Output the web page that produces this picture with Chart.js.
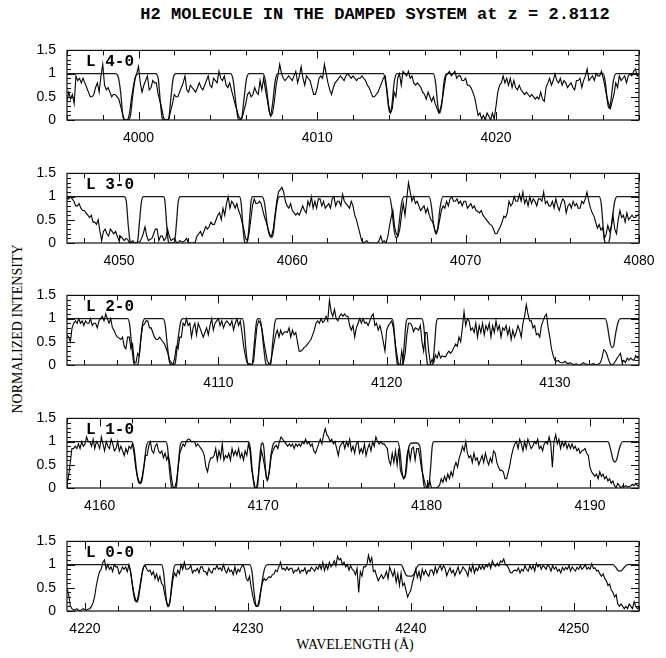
<!DOCTYPE html>
<html><head><meta charset="utf-8">
<script src="https://cdn.jsdelivr.net/npm/chart.js@4.4.0/dist/chart.umd.min.js"></script>
<style>
html,body{margin:0;padding:0;background:#fff;}
#wrap{position:relative;width:666px;height:658px;overflow:hidden;background:#fff;}
canvas{position:absolute;left:0;}
#title{position:absolute;left:375px;top:14px;transform:translate(-50%,-50%);font:bold 17px "Liberation Mono",monospace;white-space:pre;color:#000;}
#ytitle{position:absolute;left:18px;top:329px;transform:translate(-50%,-50%) rotate(-90deg);font:14px "Liberation Serif",serif;white-space:nowrap;color:#000;}
#xtitle{position:absolute;left:355px;top:645px;transform:translate(-50%,-50%);font:14px "Liberation Serif",serif;white-space:nowrap;color:#000;}
</style></head>
<body><div id="wrap">
<div id="title">H2 MOLECULE IN THE DAMPED SYSTEM at z = 2.8112</div>
<div id="ytitle">NORMALIZED INTENSITY</div>
<div id="xtitle">WAVELENGTH (Å)</div>
</div>
<script>
// ---------------- DATA ----------------
const panelLabels = ['L 4-0','L 3-0','L 2-0','L 1-0','L 0-0'];
const waveMin = [3996, 4047, 4101, 4158, 4218.9];
const waveMax = [4028, 4080, 4135, 4193, 4254];
const waveStep = 0.1;
const ticksL40 = [4000,4010,4020];
const ticksL30 = [4050,4060,4070,4080];
const ticksL20 = [4110,4120,4130];
const ticksL10 = [4160,4170,4180,4190];
const ticksL00 = [4220,4230,4240,4250];
const intensityTicks = [0,0.5,1,1.5];

const fluxL40 = [
0.4,0.6,0.45,0.55,0.35,0.95,0.85,0.9,0.8,0.9,
0.8,0.7,0.6,0.5,0.5,0.55,0.7,0.8,0.6,0.95,
1.2,0.75,0.65,0.7,0.6,0.5,0.55,0.55,0.5,0.45,
0.3,0.15,0.02,0,0,0.15,0.45,0.7,0.9,1.0,
1.15,0.8,0.6,0.75,0.85,0.95,0.65,0.7,0.85,0.8,
0.8,0.55,0.4,0.25,0.05,0,0,0.02,0.2,0.35,
0.55,0.5,0.5,0.6,0.7,0.8,0.95,0.65,0.6,0.75,
0.7,0.65,0.6,0.7,0.8,0.7,0.65,0.75,0.85,0.95,
0.75,0.7,0.9,0.85,0.8,1.05,0.9,0.85,0.95,0.75,
0.7,0.8,0.65,0.5,0.35,0.22,0.08,0.02,0.05,0.2,
0.35,0.55,0.6,0.5,0.55,0.7,0.6,0.55,0.85,0.65,
0.9,0.65,0.45,0.2,0.08,0.15,0.4,0.75,0.95,1.2,
1.0,0.9,0.85,0.9,0.95,0.9,0.85,0.95,1.05,0.8,
0.95,1.15,0.9,0.75,0.95,0.9,0.85,0.7,0.55,0.55,
0.7,0.9,0.95,0.9,1.2,1.0,0.8,0.65,0.55,0.7,
0.8,0.85,0.9,0.95,0.9,0.85,0.95,1.0,0.95,0.9,
0.95,0.9,0.85,0.9,0.9,0.95,0.9,0.85,0.75,0.7,
0.6,0.5,0.5,0.55,0.6,0.7,0.8,0.9,0.95,0.65,
0.3,0.15,0.25,0.6,0.5,0.9,1.0,0.75,1.05,1.0,
0.95,1.05,0.9,0.95,0.8,0.75,0.8,0.75,0.7,0.6,
0.55,0.45,0.6,0.5,0.4,0.5,0.35,0.25,0.15,0.25,
0.45,0.7,0.95,1.0,1.05,0.95,1.0,1.05,0.9,0.95,
0.95,0.85,0.85,0.9,0.75,0.75,0.7,0.6,0.5,0.3,
0.1,0.15,0.02,0.1,0.0,0.15,0.08,0.0,0.15,0.02,
0.3,0.6,0.75,0.8,0.95,0.8,0.9,0.75,0.9,0.7,
0.85,0.7,0.65,0.75,0.65,0.6,0.55,0.6,0.55,0.5,
0.55,0.5,0.45,0.5,0.45,0.6,0.45,0.4,0.7,0.8,
0.9,0.75,0.85,1.0,0.85,0.8,0.9,0.75,0.85,0.8,
0.7,0.75,0.8,0.7,0.65,0.85,0.85,0.9,0.7,0.85,
0.95,1.1,0.85,0.9,0.95,0.85,1.0,0.95,0.95,1.05,
0.9,0.7,0.5,0.35,0.25,0.4,0.55,0.8,0.7,0.95,
0.85,0.9,0.95,0.8,0.95,1.0,0.95,1.05,1.1,0.95,
1.0];

const fluxL30 = [
0.95,0.95,1.0,0.95,0.9,0.8,0.8,0.85,0.75,0.7,
0.7,0.65,0.6,0.55,0.6,0.45,0.45,0.4,0.5,0.25,
0.05,0.25,0.3,0.2,0.15,0.3,0.25,0.2,0.25,0.15,
0.05,0.15,0.1,0.05,0.1,0.08,0.0,0.03,0.05,0.0,
0.0,0.02,0.02,0.1,0.2,0.35,0.15,0.05,0.08,0.1,
0.2,0.3,0.3,0.05,0.15,0.15,0.05,0.1,0.3,0.15,
0.05,0.08,0.1,0.02,0.0,0.05,0.03,0.02,0.05,0.1,
0.0,0.0,0.0,0.0,0.02,0.15,0.2,0.25,0.15,0.25,
0.35,0.3,0.35,0.45,0.4,0.4,0.5,0.6,0.65,0.5,
0.75,0.6,0.85,1.0,0.75,0.9,0.85,0.75,0.85,0.7,
0.6,0.45,0.3,0.1,0.05,0.2,0.5,0.8,0.95,0.85,
0.85,0.9,0.85,0.7,0.55,0.45,0.3,0.18,0.15,0.3,
0.6,0.9,1.1,1.15,1.2,1.1,0.9,0.8,0.75,0.85,
0.7,0.65,0.6,0.65,0.6,0.7,0.8,0.7,0.65,0.9,
0.8,1.0,0.75,0.9,0.75,0.95,0.95,0.8,0.9,0.75,
0.8,0.85,0.75,0.95,1.0,0.8,0.9,0.9,0.8,1.05,
0.9,0.85,0.8,0.75,0.9,0.8,0.6,0.5,0.35,0.2,
0.05,0.0,0.03,0.05,0.0,0.0,0.0,0.0,0.0,0.0,
0.05,0.15,0.02,0.05,0.0,0.12,0.35,0.55,0.7,0.35,
0.2,0.15,0.3,0.6,0.85,0.6,0.95,1.3,1.1,0.9,
1.0,0.85,0.9,0.8,0.7,0.75,0.8,0.65,0.75,0.6,
0.5,0.45,0.32,0.2,0.3,0.5,0.7,0.8,0.75,0.9,
0.8,0.95,1.0,0.9,0.9,0.95,0.85,0.9,0.8,0.9,
0.9,0.75,0.8,0.85,0.75,0.8,0.7,0.68,0.65,0.7,
0.6,0.55,0.5,0.45,0.4,0.38,0.3,0.2,0.2,0.28,
0.35,0.45,0.58,0.55,0.65,0.9,0.8,0.85,1.0,0.9,
0.9,1.05,0.9,1.1,0.85,0.95,0.8,1.0,0.85,0.95,
0.9,0.8,0.95,0.95,0.9,1.1,0.85,0.9,0.8,0.8,
0.9,0.75,0.95,0.8,0.7,0.85,0.95,0.9,0.65,0.8,
0.85,0.75,0.9,0.8,0.85,0.75,0.75,0.9,0.85,0.95,
1.1,0.9,0.75,0.65,0.58,0.45,0.32,0.4,0.28,0.33,
0.1,0.18,0.38,0.25,0.35,0.6,0.3,0.2,0.5,0.7,
0.55,0.6,0.45,0.65,0.5,0.55,0.6,0.55,0.55,0.6,
0.6];

const fluxL20 = [
0.65,0.6,0.5,0.8,0.9,0.95,0.9,1.0,0.9,0.95,
0.85,0.95,0.9,0.9,1.0,0.85,0.9,0.9,0.8,0.95,
1.0,1.05,0.95,1.1,1.0,0.9,1.0,0.8,0.75,0.65,
0.6,0.58,0.55,0.6,0.4,0.35,0.6,0.6,0.35,0.45,
0.05,0.05,0.25,0.2,0.6,0.85,0.88,0.95,0.95,0.8,
0.8,0.7,0.6,0.55,0.55,0.6,0.55,0.5,0.45,0.35,
0.25,0.1,0.05,0.0,0.15,0.4,0.35,0.6,0.6,0.9,
0.85,1.0,0.85,0.9,0.6,0.8,0.9,0.65,0.9,0.8,
0.7,0.6,0.7,0.8,0.65,0.85,1.0,0.75,0.9,0.95,
1.0,0.85,0.95,0.8,0.9,0.95,0.9,0.85,0.95,0.75,
0.9,1.0,0.85,0.95,0.7,0.4,0.2,0.05,0.03,0.02,
0.0,0.1,0.5,0.85,0.95,0.9,0.75,0.5,0.3,0.1,
0.02,0.05,0.25,0.45,0.65,0.75,0.6,0.75,0.65,0.7,
0.72,0.7,0.8,0.6,0.75,0.65,0.7,0.5,0.3,0.3,
0.33,0.38,0.4,0.45,0.5,0.55,0.65,0.75,0.9,0.95,
0.9,1.0,0.92,0.95,1.05,0.95,1.4,1.15,1.05,1.2,
1.0,0.95,1.05,1.1,1.05,1.1,1.05,1.05,0.85,0.75,
0.85,0.6,0.8,0.9,1.0,0.9,1.0,0.9,0.92,0.85,
0.95,1.05,1.1,0.85,0.9,0.75,0.85,0.7,0.5,0.3,
0.75,0.85,0.9,0.95,0.8,0.5,0.25,0.02,0.0,0.3,
0.05,0.25,0.65,0.9,0.9,0.85,0.72,0.8,0.78,0.75,
0.85,0.5,0.3,0.7,0.7,0.3,0.02,0.12,0.05,0.22,
0.15,0.28,0.15,0.2,0.18,0.18,0.25,0.3,0.25,0.3,
0.38,0.45,0.4,0.6,0.5,0.8,1.15,0.85,1.0,0.95,
0.75,0.8,0.7,0.9,0.6,0.85,0.7,0.9,0.65,0.85,
0.75,0.9,0.6,0.85,0.7,0.95,0.75,0.85,0.6,0.8,
0.75,0.85,0.65,0.8,0.55,0.75,0.6,0.7,0.85,0.75,
0.6,0.9,1.05,1.3,1.1,0.95,0.95,0.8,0.85,0.65,
0.68,0.6,0.85,0.95,1.05,1.1,0.8,0.6,0.35,0.2,
0.1,0.08,0.1,0.06,0.05,0.05,0.08,0.04,0.03,0.05,
0.03,0.0,0.02,0.02,0.0,0.0,0.03,0.05,0.02,0.02,
0.0,0.0,0.02,0.03,0.0,0.0,0.02,0.05,0.15,0.33,
0.3,0.22,0.1,0.02,0.0,0.03,0.08,0.15,0.2,0.25,
0.05,0.1,0.05,0.15,0.1,0.15,0.12,0.1,0.2,0.15,
0.15];

const fluxL10 = [
0.1,0.25,0.55,0.85,0.85,0.9,0.85,0.95,0.85,1.0,
0.9,0.95,1.1,1.0,1.0,0.9,1.05,0.85,1.0,0.95,
0.85,1.1,0.95,0.8,1.0,0.9,0.85,1.05,0.95,0.8,
0.85,1.0,0.8,0.9,0.8,0.7,0.85,0.75,0.9,0.85,
0.95,0.75,0.45,0.25,0.15,0.1,0.25,0.45,0.7,0.7,
0.9,1.0,0.8,0.75,0.9,0.95,0.8,0.75,0.8,0.65,
0.75,0.6,0.7,0.5,0.2,0.0,0.02,0.15,0.45,0.75,
0.85,0.95,0.9,1.0,1.05,1.05,1.0,1.0,1.0,0.9,
0.95,0.9,0.85,0.8,0.7,0.45,0.35,0.55,0.65,0.65,
0.7,0.85,0.6,0.8,0.65,0.95,0.6,0.7,0.65,0.75,
0.6,0.85,0.7,0.8,0.7,0.85,0.65,0.75,0.6,0.8,
0.7,0.95,0.8,0.4,0.2,0.02,0.0,0.25,0.55,0.8,
0.65,0.45,0.22,0.2,0.4,0.7,0.8,0.88,0.92,0.85,
1.0,1.1,1.05,1.0,0.95,0.9,0.95,0.9,0.95,0.85,
0.95,0.9,0.95,0.9,1.0,0.95,1.05,0.95,1.0,0.9,
0.95,0.8,0.75,0.85,0.95,1.05,0.95,1.15,1.28,1.15,
1.1,1.0,1.05,0.95,1.0,0.85,0.7,0.9,0.95,1.0,
0.85,1.0,0.9,1.05,0.8,0.9,0.75,0.95,1.0,0.75,
0.85,0.75,0.95,0.7,0.85,0.95,0.8,1.0,0.9,1.1,
1.0,0.95,1.0,0.95,0.95,0.9,0.85,0.6,0.5,0.75,
0.55,0.8,0.5,0.85,0.38,0.28,0.2,0.28,0.7,0.85,
0.6,0.85,0.88,0.6,0.85,0.85,0.65,0.4,0.25,0.1,
0.02,0.05,0.15,0.0,0.0,0.0,0.0,0.02,0.06,0.2,
0.12,0.25,0.15,0.3,0.2,0.35,0.25,0.45,0.55,0.45,
0.65,0.75,0.9,0.8,1.0,0.75,0.65,0.7,0.55,0.75,
0.6,0.65,0.5,0.6,0.7,0.55,0.75,0.6,0.5,0.65,
0.55,0.8,0.75,0.55,0.45,0.38,0.38,0.35,0.2,0.2,
0.35,0.5,0.7,0.85,0.95,1.0,0.85,1.05,0.95,0.8,
1.0,0.85,1.05,0.95,0.85,0.9,1.0,0.95,1.05,0.85,
0.9,0.8,0.95,1.0,0.95,1.1,0.95,0.45,1.0,1.15,
0.95,1.05,0.85,1.0,0.9,1.0,0.85,0.95,0.85,0.95,
0.85,0.9,0.8,0.85,0.75,0.8,0.82,0.85,0.75,0.7,
0.45,0.35,0.3,0.25,0.3,0.2,0.35,0.25,0.3,0.2,
0.25,0.15,0.2,0.1,0.15,0.05,0.0,0.1,0.05,0.0,
0.05,0.03,0.05,0.02,0.03,0.05,0.08,0.05,0.1,0.05,
0.05];

const fluxL00 = [
0.5,0.35,0.12,0.05,0.03,0.02,0.05,0.02,0.0,0.03,
0.05,0.03,0.02,0.04,0.05,0.1,0.18,0.32,0.55,0.72,
0.85,0.9,1.05,1.1,0.9,1.0,0.9,0.95,0.85,1.0,
0.95,0.95,0.8,0.85,0.95,0.9,0.95,0.85,1.0,0.85,
0.6,0.4,0.25,0.2,0.38,0.6,0.8,0.95,0.98,0.9,
0.85,0.88,0.78,0.85,0.7,0.8,0.65,0.75,0.6,0.55,
0.35,0.2,0.1,0.18,0.42,0.68,0.82,0.75,0.88,0.8,
1.0,0.9,1.05,0.9,0.9,0.92,0.98,0.82,0.88,0.86,
0.92,0.82,0.95,0.95,0.85,0.85,0.78,0.92,0.85,0.82,
0.92,0.9,0.98,0.9,0.93,0.87,1.0,0.88,0.82,0.93,
0.85,0.88,0.78,0.95,0.8,0.9,0.85,0.95,1.0,0.9,
0.7,0.65,0.75,0.52,0.32,0.17,0.1,0.1,0.25,0.46,
0.62,0.7,0.66,0.7,0.74,0.72,0.78,0.8,0.88,0.85,
0.95,1.05,0.9,0.92,0.88,0.95,0.88,0.92,0.92,0.82,
0.88,0.86,0.93,0.82,0.88,0.86,0.93,0.8,0.88,0.86,
0.94,0.9,0.86,0.95,0.9,1.0,0.9,1.05,0.87,1.0,
0.9,1.05,0.95,1.0,1.08,0.97,1.18,1.1,1.13,1.0,
1.05,0.95,1.0,0.88,0.98,0.9,0.87,0.78,0.92,0.4,
0.85,0.75,0.95,0.95,1.0,1.2,1.05,1.15,0.85,0.88,
0.75,0.65,0.72,0.78,0.7,0.75,0.85,0.7,0.95,0.85,
0.75,0.88,0.62,0.8,0.55,0.82,0.55,0.6,0.45,0.3,
0.38,0.45,0.62,0.75,0.9,0.72,0.85,0.68,0.9,0.78,
0.88,0.8,0.75,0.88,0.88,0.78,0.95,0.82,0.92,0.98,
0.88,0.98,0.92,0.76,0.85,0.93,0.82,0.88,0.76,0.85,
0.95,0.8,0.86,0.95,0.9,0.85,0.75,0.95,0.85,1.0,
0.82,0.93,0.87,0.98,0.9,0.98,0.9,1.0,0.95,1.03,
0.92,1.08,1.0,0.96,1.03,0.97,1.08,1.05,1.12,1.0,
0.98,0.92,0.83,0.82,0.87,0.88,0.86,0.93,0.82,0.9,
0.86,0.98,0.9,0.86,0.98,0.9,0.98,0.86,1.03,0.95,
1.0,0.9,0.98,0.95,0.9,1.0,0.95,0.86,0.98,0.9,
0.95,0.86,0.9,0.82,0.94,0.88,0.94,0.9,0.98,0.86,
0.95,0.9,0.86,0.94,0.9,0.98,0.9,0.94,1.0,0.9,
0.94,0.9,1.02,0.92,0.93,0.86,0.88,0.8,0.75,0.8,
0.7,0.65,0.55,0.58,0.45,0.4,0.3,0.35,0.15,0.1,
0.15,0.1,0.05,0.1,0.05,0.15,0.1,0.05,0.2,0.1,
0.05,0.08];

// fitted H2 model profiles: [wavelength, intensity]
const modelL40 = [[3996,1],[3998.7,1],[3998.85,0.95],[3999.0,0.6],[3999.12,0.1],[3999.2,0],[3999.45,0],[3999.55,0.1],[3999.7,0.6],[3999.85,0.95],[4000.0,1],
[4000.95,1],[4001.1,0.9],[4001.22,0.4],[4001.33,0.03],[4001.4,0],[4001.62,0],[4001.7,0.05],[4001.82,0.5],[4001.95,0.92],[4002.1,1],
[4005.15,1],[4005.3,0.85],[4005.45,0.35],[4005.58,0.02],[4005.68,0],[4005.78,0.05],[4005.9,0.45],[4006.05,0.9],[4006.2,1],
[4006.95,1],[4007.1,0.85],[4007.25,0.4],[4007.38,0.1],[4007.5,0.35],[4007.65,0.85],[4007.8,1],
[4013.7,1],[4013.85,0.75],[4014.0,0.25],[4014.08,0.15],[4014.17,0.3],[4014.3,0.8],[4014.45,1],
[4016.5,1],[4016.62,0.8],[4016.75,0.3],[4016.86,0.15],[4016.97,0.35],[4017.1,0.85],[4017.25,1],
[4026.0,1],[4026.12,0.8],[4026.25,0.35],[4026.33,0.25],[4026.42,0.4],[4026.57,0.85],[4026.72,1],[4028,1]];
const modelL30 = [[4047,1],[4050.3,1],[4050.42,0.9],[4050.53,0.4],[4050.63,0.05],[4050.7,0],[4051.0,0],[4051.08,0.05],[4051.18,0.45],[4051.3,0.9],[4051.42,1],
[4052.55,1],[4052.65,0.9],[4052.75,0.4],[4052.85,0.03],[4052.92,0],[4053.15,0],[4053.22,0.05],[4053.32,0.45],[4053.42,0.9],[4053.55,1],
[4056.95,1],[4057.05,0.85],[4057.15,0.35],[4057.25,0.02],[4057.33,0],[4057.42,0.05],[4057.52,0.45],[4057.62,0.9],[4057.72,1],
[4058.25,1],[4058.4,0.85],[4058.55,0.4],[4058.7,0.15],[4058.8,0.12],[4058.9,0.2],[4059.02,0.6],[4059.15,0.92],[4059.25,1],
[4065.6,1],[4065.72,0.8],[4065.85,0.35],[4065.97,0.12],[4066.05,0.12],[4066.15,0.4],[4066.3,0.85],[4066.45,1],
[4067.9,1],[4068.02,0.8],[4068.15,0.4],[4068.28,0.2],[4068.38,0.3],[4068.52,0.75],[4068.68,1],
[4077.7,1],[4077.82,0.85],[4077.93,0.35],[4078.02,0.03],[4078.08,0],[4078.22,0],[4078.3,0.08],[4078.45,0.5],[4078.6,0.9],[4078.75,1],[4080,1]];
const modelL20 = [[4101,1],[4104.6,1],[4104.72,0.88],[4104.85,0.4],[4104.97,0.05],[4105.03,0],[4105.18,0],[4105.25,0.08],[4105.37,0.5],[4105.5,0.9],[4105.65,1],
[4106.7,1],[4106.83,0.88],[4106.97,0.4],[4107.1,0.05],[4107.2,0],[4107.38,0],[4107.45,0.08],[4107.58,0.5],[4107.75,0.92],[4107.9,1],
[4111.42,1],[4111.52,0.85],[4111.63,0.35],[4111.74,0.03],[4111.8,0],[4111.97,0],[4112.03,0.05],[4112.13,0.45],[4112.25,0.9],[4112.35,1],
[4112.45,1],[4112.57,0.8],[4112.7,0.35],[4112.82,0.03],[4112.9,0],[4113.06,0],[4113.12,0.05],[4113.22,0.45],[4113.35,0.9],[4113.48,1],
[4120.3,1],[4120.42,0.85],[4120.53,0.35],[4120.63,0.03],[4120.68,0],[4120.9,0],[4120.95,0.05],[4121.05,0.45],[4121.15,0.9],[4121.25,1],
[4122.1,1],[4122.2,0.85],[4122.32,0.35],[4122.42,0.03],[4122.47,0],[4122.7,0],[4122.75,0.05],[4122.85,0.45],[4122.95,0.9],[4123.05,1],
[4133.0,1],[4133.12,0.85],[4133.25,0.55],[4133.38,0.38],[4133.48,0.4],[4133.62,0.7],[4133.78,0.95],[4133.92,1],[4135,1]];
const modelL10 = [[4158,1],[4161.95,1],[4162.1,0.85],[4162.25,0.4],[4162.38,0.12],[4162.48,0.1],[4162.58,0.15],[4162.72,0.5],[4162.85,0.88],[4163.0,1],
[4164.05,1],[4164.15,0.88],[4164.27,0.4],[4164.38,0.05],[4164.45,0],[4164.65,0],[4164.7,0.05],[4164.8,0.45],[4164.92,0.9],[4165.05,1],
[4169.1,1],[4169.22,0.85],[4169.33,0.4],[4169.45,0.05],[4169.52,0],[4169.63,0],[4169.68,0.1],[4169.78,0.6],[4169.9,0.95],[4169.98,0.97],
[4170.05,0.85],[4170.15,0.4],[4170.25,0.15],[4170.35,0.3],[4170.5,0.75],[4170.65,0.97],[4170.78,1],
[4178.25,1],[4178.37,0.8],[4178.5,0.35],[4178.63,0.2],[4178.75,0.35],[4178.88,0.8],[4179.0,0.95],[4179.15,0.97],
[4179.4,0.97],[4179.6,0.88],[4179.72,0.45],[4179.83,0.08],[4179.9,0],[4180.1,0],[4180.15,0.05],[4180.25,0.45],[4180.35,0.9],[4180.45,1],
[4191.1,1],[4191.25,0.85],[4191.4,0.62],[4191.52,0.56],[4191.64,0.62],[4191.8,0.85],[4192.0,1],[4193,1]];
const modelL00 = [[4218.9,1],[4222.65,1],[4222.8,0.85],[4222.95,0.45],[4223.08,0.22],[4223.17,0.2],[4223.27,0.25],[4223.4,0.55],[4223.55,0.88],[4223.7,1],
[4224.7,1],[4224.83,0.82],[4224.96,0.35],[4225.06,0.12],[4225.13,0.1],[4225.22,0.2],[4225.35,0.65],[4225.48,0.95],[4225.58,1],
[4230.1,1],[4230.25,0.85],[4230.38,0.4],[4230.5,0.12],[4230.58,0.1],[4230.68,0.15],[4230.82,0.5],[4231.0,0.88],[4231.2,1],
[4239.4,1],[4239.55,0.9],[4239.7,0.78],[4239.85,0.75],[4240.05,0.75],[4240.2,0.8],[4240.35,0.93],[4240.5,1],
[4252.4,1],[4252.55,0.95],[4252.7,0.88],[4252.82,0.86],[4252.95,0.88],[4253.12,0.95],[4253.3,1],[4254,1]];

// ---------------- LAYOUT ----------------
const fluxes = [fluxL40, fluxL30, fluxL20, fluxL10, fluxL00];
const models = [modelL40, modelL30, modelL20, modelL10, modelL00];
const tickLists = [ticksL40, ticksL30, ticksL20, ticksL10, ticksL00];
const frameTops = [41, 164, 286, 409, 532];
const PAD_TOP = 10, FRAME_H = 79, CAN_H = 130, LEFT = 67, RIGHT_PAD = 27;

const framePlugin = {
  id: 'frame',
  afterDatasetsDraw(chart, args, opts) {
    const {ctx, chartArea: a} = chart;
    const x = chart.scales.x, y = chart.scales.y;
    ctx.save();
    ctx.strokeStyle = '#111';
    ctx.lineWidth = 1.2;
    ctx.strokeRect(a.left, a.top, a.right - a.left, a.bottom - a.top);
    ctx.lineWidth = 1;
    ctx.beginPath();
    const first = Math.ceil(x.min / 2) * 2;
    for (let v = first; v <= x.max + 1e-6; v += 2) {
      const px = Math.round(x.getPixelForValue(v)) + 0.5;
      const len = (Math.round(v) % 10 === 0) ? 8 : 5;
      ctx.moveTo(px, a.bottom); ctx.lineTo(px, a.bottom - len);
      ctx.moveTo(px, a.top); ctx.lineTo(px, a.top + len);
    }
    for (let k = 0; k <= 15; k++) {
      const py = Math.round(y.getPixelForValue(k / 10)) + 0.5;
      const len = (k % 5 === 0) ? 8 : 4;
      ctx.moveTo(a.left, py); ctx.lineTo(a.left + len, py);
      ctx.moveTo(a.right, py); ctx.lineTo(a.right - len, py);
    }
    ctx.stroke();
    ctx.font = 'bold 16px "Liberation Mono", monospace';
    ctx.fillStyle = '#000';
    ctx.textBaseline = 'middle';
    ctx.textAlign = 'left';
    ctx.fillText(opts.label, a.left + 19, a.top + 12);
    ctx.restore();
  }
};

const wrap = document.getElementById('wrap');
for (let k = 0; k < 5; k++) {
  const cv = document.createElement('canvas');
  cv.width = 666; cv.height = CAN_H;
  cv.style.width = '666px'; cv.style.height = CAN_H + 'px';
  cv.style.top = (frameTops[k] - PAD_TOP) + 'px';
  wrap.appendChild(cv);
  const spectrum = fluxes[k].map((v, i) => ({x: Math.round((waveMin[k] + i * waveStep) * 100) / 100, y: v}));
  const fit = models[k].map(p => ({x: p[0], y: p[1]}));
  const ticks = tickLists[k];
  new Chart(cv.getContext('2d'), {
    type: 'line',
    data: {datasets: [
      {data: spectrum, borderColor: '#000', borderWidth: 1.1, pointRadius: 0, tension: 0, fill: false},
      {data: fit, borderColor: '#1a1a1a', borderWidth: 1.3, pointRadius: 0, cubicInterpolationMode: 'monotone', fill: false}
    ]},
    options: {
      responsive: false, animation: false, devicePixelRatio: 1,
      events: [],
      layout: {padding: {top: PAD_TOP, right: RIGHT_PAD, left: 0, bottom: 0}},
      plugins: {legend: {display: false}, tooltip: {enabled: false}, frame: {label: panelLabels[k]}},
      scales: {
        x: {
          type: 'linear', min: waveMin[k], max: waveMax[k],
          grid: {display: false, drawTicks: false}, border: {display: false},
          afterBuildTicks: s => { s.ticks = ticks.map(v => ({value: v})); },
          afterFit: s => { s.height = CAN_H - PAD_TOP - FRAME_H; },
          ticks: {callback: v => String(v), color: '#000', font: {family: 'Liberation Sans', size: 14}, padding: 10, maxRotation: 0, autoSkip: false}
        },
        y: {
          min: 0, max: 1.5,
          grid: {display: false, drawTicks: false}, border: {display: false},
          afterBuildTicks: s => { s.ticks = intensityTicks.map(v => ({value: v})); },
          afterFit: s => { s.width = LEFT; },
          ticks: {callback: v => String(v), color: '#000', font: {family: 'Liberation Sans', size: 14}, padding: 11}
        }
      }
    },
    plugins: [framePlugin]
  });
}
</script>
</body></html>
